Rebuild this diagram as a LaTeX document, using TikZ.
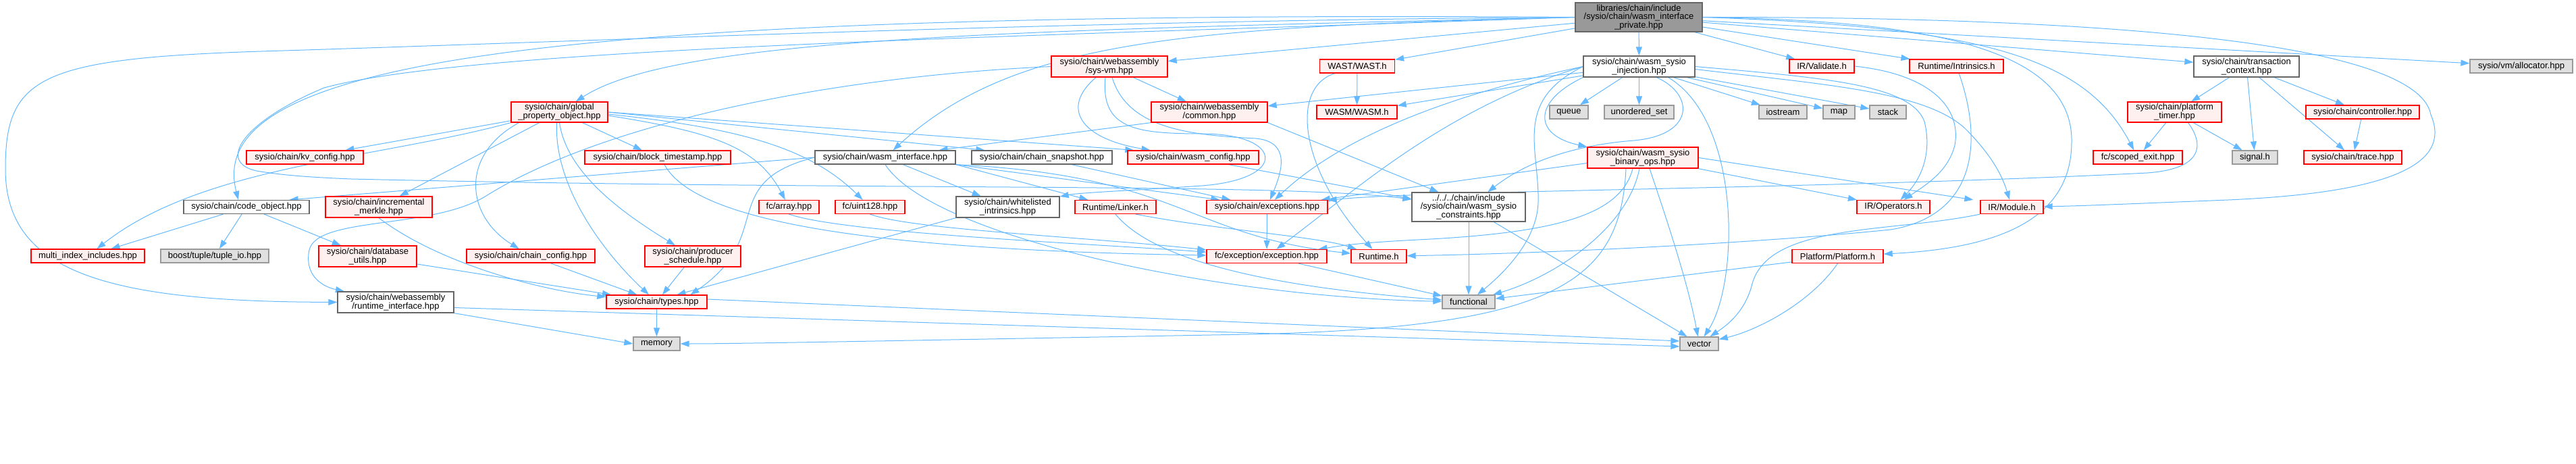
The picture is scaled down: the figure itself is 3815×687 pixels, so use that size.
\documentclass[tikz,border=0pt]{standalone}
\usepackage{fontspec}
\setmainfont{Liberation Sans}
\usepackage{xcolor}
\usepackage{tikz}
\usetikzlibrary{arrows.meta, backgrounds}
\definecolor{edgeblue}{RGB}{99,184,255}
\definecolor{redfill}{RGB}{255,240,240}
\definecolor{sysfill}{RGB}{224,224,224}
\definecolor{sysline}{RGB}{153,153,153}
\definecolor{plainline}{RGB}{102,102,102}
\definecolor{mainfill}{RGB}{153,153,153}

\begin{document}
\begin{tikzpicture}[
  x=1pt, y=-1pt,
  box/.style={draw, line width=1.3pt, inner sep=0pt, minimum height=20pt, align=center, font=\fontsize{13}{11.6}\selectfont},
  redbox/.style={box, draw=red, fill=redfill},
  plainbox/.style={box, draw=plainline, fill=white},
  sysbox/.style={box, draw=sysline, fill=sysfill},
  mainbox/.style={box, draw=plainline, fill=mainfill},
  arr/.style={-{Triangle[length=13pt, width=9pt]}, draw=edgeblue, line width=1pt}
]
  \useasboundingbox (0,0) rectangle (3815,687);

  % Header
  \node[mainbox, minimum width=188pt, minimum height=43pt] (main) at (2427,25.5) {libraries/chain/include\\/sysio/chain/wasm\_interface\\\_private.hpp};

  % Row 1
  \node[redbox, minimum width=172pt, minimum height=31pt] (sysvm) at (1643,98.5) {sysio/chain/webassembly\\/sys-vm.hpp};
  \node[redbox, minimum width=111pt] (wast) at (2010,98) {WAST/WAST.h};
  \node[plainbox, minimum width=165pt, minimum height=31pt] (inject) at (2427.5,98.5) {sysio/chain/wasm\_sysio\\\_injection.hpp};
  \node[redbox, minimum width=96pt] (validate) at (2698,98) {IR/Validate.h};
  \node[redbox, minimum width=139pt] (intrins) at (2897.5,98) {Runtime/Intrinsics.h};
  \node[plainbox, minimum width=156pt, minimum height=31pt] (trxctx) at (3327,98.5) {sysio/chain/transaction\\\_context.hpp};
  \node[sysbox, minimum width=152pt] (alloc) at (3734,98) {sysio/vm/allocator.hpp};

  % Row 2
  \node[redbox, minimum width=143pt, minimum height=30pt] (gpo) at (828.5,166) {sysio/chain/global\\\_property\_object.hpp};
  \node[redbox, minimum width=172pt, minimum height=30pt] (common) at (1791,166) {sysio/chain/webassembly\\/common.hpp};
  \node[redbox, minimum width=119pt] (wasm) at (2009.5,166) {WASM/WASM.h};
  \node[sysbox, minimum width=57pt] (queue) at (2323.5,166) {queue};
  \node[sysbox, minimum width=103pt] (uset) at (2427.5,166) {unordered\_set};
  \node[sysbox, minimum width=71pt] (iostream) at (2640.5,166) {iostream};
  \node[sysbox, minimum width=47pt] (map) at (2723.5,166) {map};
  \node[sysbox, minimum width=54pt] (stack) at (2796,166) {stack};
  \node[redbox, minimum width=139pt, minimum height=30pt] (ptimer) at (3220.5,166) {sysio/chain/platform\\\_timer.hpp};
  \node[redbox, minimum width=168pt] (ctrl) at (3499,166) {sysio/chain/controller.hpp};

  % Row 3
  \node[redbox, minimum width=173pt] (kvcfg) at (451.5,233) {sysio/chain/kv\_config.hpp};
  \node[redbox, minimum width=216pt] (blockts) at (974,233) {sysio/chain/block\_timestamp.hpp};
  \node[plainbox, minimum width=208pt] (wasmif) at (1311,233) {sysio/chain/wasm\_interface.hpp};
  \node[plainbox, minimum width=208pt] (snapshot) at (1543,233) {sysio/chain/chain\_snapshot.hpp};
  \node[redbox, minimum width=194pt] (wasmcfg) at (1767,233) {sysio/chain/wasm\_config.hpp};
  \node[redbox, minimum width=164pt, minimum height=31pt] (binops) at (2433,233.5) {sysio/chain/wasm\_sysio\\\_binary\_ops.hpp};
  \node[redbox, minimum width=132pt] (scoped) at (3166,233) {fc/scoped\_exit.hpp};
  \node[sysbox, minimum width=67pt] (signal) at (3339.5,233) {signal.h};
  \node[redbox, minimum width=145pt] (trace) at (3484.5,233) {sysio/chain/trace.hpp};

  % Row 4
  \node[plainbox, minimum width=186pt] (codeobj) at (365,306.5) {sysio/chain/code\_object.hpp};
  \node[redbox, minimum width=158pt, minimum height=31pt] (merkle) at (561,306.5) {sysio/chain/incremental\\\_merkle.hpp};
  \node[redbox, minimum width=89pt] (fcarray) at (1168.5,306.5) {fc/array.hpp};
  \node[redbox, minimum width=103pt] (uint128) at (1288.5,306.5) {fc/uint128.hpp};
  \node[plainbox, minimum width=153pt, minimum height=31pt] (whitelist) at (1492.5,306.5) {sysio/chain/whitelisted\\\_intrinsics.hpp};
  \node[redbox, minimum width=120pt] (linker) at (1652,306.5) {Runtime/Linker.h};
  \node[redbox, minimum width=179pt] (exc) at (1876.5,306.5) {sysio/chain/exceptions.hpp};
  \node[plainbox, minimum width=168pt, minimum height=43pt] (constr) at (2175,306.5) {../../../chain/include\\/sysio/chain/wasm\_sysio\\\_constraints.hpp};
  \node[redbox, minimum width=108pt] (irops) at (2804,306.5) {IR/Operators.h};
  \node[redbox, minimum width=93pt] (irmod) at (2979.5,306.5) {IR/Module.h};

  % Row 5
  \node[redbox, minimum width=168pt] (multiidx) at (130,379) {multi\_index\_includes.hpp};
  \node[sysbox, minimum width=160pt] (tupleio) at (318,379) {boost/tuple/tuple\_io.hpp};
  \node[redbox, minimum width=145pt, minimum height=31pt] (dbutils) at (544.5,379.5) {sysio/chain/database\\\_utils.hpp};
  \node[redbox, minimum width=190pt] (chaincfg) at (786,379) {sysio/chain/chain\_config.hpp};
  \node[redbox, minimum width=142pt, minimum height=31pt] (prodsched) at (1026,379.5) {sysio/chain/producer\\\_schedule.hpp};
  \node[redbox, minimum width=178pt] (fcexc) at (1876,379.5) {fc/exception/exception.hpp};
  \node[redbox, minimum width=82pt] (runtime) at (2042,379.5) {Runtime.h};
  \node[redbox, minimum width=135pt] (platform) at (2721.5,379.5) {Platform/Platform.h};

  % Row 6 and 7
  \node[plainbox, minimum width=172pt, minimum height=31pt] (rtif) at (586,447.5) {sysio/chain/webassembly\\/runtime\_interface.hpp};
  \node[redbox, minimum width=149pt] (types) at (972.5,447) {sysio/chain/types.hpp};
  \node[sysbox, minimum width=78pt] (functional) at (2175,447) {functional};
  \node[sysbox, minimum width=69pt] (memory) at (972.5,509) {memory};
  \node[sysbox, minimum width=57pt] (vector) at (2516.5,509) {vector};

  \begin{scope}[on background layer]
  % Header includes
  \draw[arr] (main) -- (sysvm);
  \draw[arr] (main) -- (wast);
  \draw[arr] (main) -- (inject);
  \draw[arr] (main) -- (validate);
  \draw[arr] (main) -- (intrins);
  \draw[arr] (main) -- (trxctx);
  \draw[arr] (main) -- (alloc);
  \draw[arr] (main.west) .. controls (1500,45) and (1000,55) .. (gpo);
  \draw[arr] (main.west) .. controls (1750,40) and (1500,60) .. (wasmif);
  \draw[arr] (main.west) .. controls (800,15) and (300,90) .. ([xshift=-12pt]codeobj.north);
  \draw[arr] (main.west) .. controls (1600,30) and (900,60) .. (420,75) .. controls (60,85) and (8,110) .. (8,250) .. controls (8,400) and (150,447) .. (rtif);
  \draw[arr] (main.west) .. controls (1500,55) and (700,70) .. (480,130) .. controls (360,180) and (320,240) .. (380,253) .. controls (420,260) and (470,263) .. (520,265) .. controls (1300,283) and (1900,270) .. (constr);
  \draw[arr] (main.east) .. controls (2950,40) and (3090,90) .. (scoped);
  \draw[arr] (main.east) .. controls (3100,25) and (3580,60) .. (3600,170) .. controls (3630,240) and (3550,285) .. (3300,296) .. controls (3150,302) and (3080,305) .. (irmod);
  \draw[arr] (main.east) .. controls (2850,30) and (3070,70) .. (3068,210) .. controls (3068,330) and (2950,368) .. (platform);

  % sys-vm
  \draw[arr] (sysvm) -- (common);
  \draw[arr] ([xshift=-20pt]sysvm.south) .. controls (1570,160) and (1600,205) .. (wasmcfg);
  \draw[arr] ([xshift=-6pt]sysvm.south) .. controls (1630,190) and (1680,198) .. (1780,198) .. controls (1900,198) and (1910,265) .. (1780,275) .. controls (1680,282) and (1600,285) .. (whitelist);
  \draw[arr] ([xshift=4pt]sysvm.south) .. controls (1670,190) and (1760,200) .. (1860,205) .. controls (1910,210) and (1900,250) .. (exc);
  \draw[arr] (sysvm.west) .. controls (1200,115) and (880,190) .. (720,290) .. controls (640,340) and (470,320) .. (458,370) .. controls (450,410) and (480,425) .. (rtif);

  % WAST
  \draw[arr] (wast) -- (wasm);
  \draw[arr] (wast) .. controls (1910,130) and (1925,250) .. (runtime);

  % injection
  \draw[arr] (inject) -- (common);
  \draw[arr] (inject) -- (wasm);
  \draw[arr] (inject) -- (queue);
  \draw[arr] (inject) -- (uset);
  \draw[arr] (inject) -- (iostream);
  \draw[arr] (inject) -- (map);
  \draw[arr] (inject) -- (stack);
  \draw[arr] (inject.south west) .. controls (2270,150) and (2270,200) .. (binops.north west);
  \draw[arr] ([xshift=26pt]inject.south) .. controls (2510,140) and (2510,200) .. (2420,208) .. controls (2330,215) and (2260,240) .. (constr);
  \draw[arr] (inject.west) .. controls (2150,140) and (1990,200) .. (exc);
  \draw[arr] (inject.west) .. controls (2140,160) and (2010,280) .. (fcexc);
  \draw[arr] (inject.west) .. controls (2240,150) and (2280,220) .. (2278,300) .. controls (2276,360) and (2220,410) .. (functional);
  \draw[arr] ([xshift=-40pt]inject.south east) .. controls (2580,180) and (2575,420) .. (vector);
  \draw[arr] (inject.east) .. controls (2700,115) and (2830,125) .. (2850,180) .. controls (2860,220) and (2850,260) .. (irops);
  \draw[arr] ([yshift=-4pt]inject.east) .. controls (2700,125) and (2850,135) .. (2910,190) .. controls (2950,230) and (2965,260) .. (irmod);

  % IR and runtime
  \draw[arr] (validate.east) .. controls (2860,110) and (2905,160) .. (2895,215) .. controls (2885,255) and (2850,275) .. (irops);
  \draw[arr] (intrins) .. controls (2940,220) and (2920,320) .. (2800,340) .. controls (2600,360) and (2300,375) .. (runtime);

  % transaction context
  \draw[arr] (trxctx) -- (ptimer);
  \draw[arr] (trxctx) -- (signal);
  \draw[arr] (trxctx) -- (ctrl);
  \draw[arr] (trxctx) -- (trace);
  \draw[arr] (ctrl) -- (trace);
  \draw[arr] (ptimer) -- (scoped);
  \draw[arr] (ptimer) -- (signal);
  \draw[arr] ([xshift=20pt]ptimer.south) .. controls (3265,215) and (3262,250) .. (3180,256) .. controls (2700,280) and (2100,282) .. (exc);

  % global property object
  \draw[arr] (gpo) -- (kvcfg);
  \draw[arr] (gpo.south west) .. controls (560,235) and (300,245) .. (multiidx);
  \draw[arr] (gpo) -- (merkle);
  \draw[arr] ([xshift=-60pt]gpo.south) .. controls (680,230) and (690,320) .. (chaincfg);
  \draw[arr] ([xshift=-4pt]gpo.south) .. controls (820,280) and (900,380) .. (types);
  \draw[arr] (gpo.south) .. controls (840,260) and (930,320) .. (prodsched);
  \draw[arr] (gpo) -- (blockts);
  \draw[arr] ([yshift=-5pt]gpo.east) .. controls (1050,195) and (1120,215) .. (fcarray);
  \draw[arr] ([yshift=-3pt]gpo.east) .. controls (1100,190) and (1200,220) .. (uint128);
  \draw[arr] (gpo.east) -- ([xshift=20pt]snapshot.north west);
  \draw[arr] (gpo.east) -- ([xshift=10pt]wasmcfg.north west);

  % wasm interface
  \draw[arr] (wasmif.west) -- ([xshift=-30pt]codeobj.north east);
  \draw[arr] (wasmif.west) .. controls (1060,270) and (1150,350) .. ([xshift=50pt]types.north);
  \draw[arr] (wasmif) -- (whitelist);
  \draw[arr] (wasmif.south) .. controls (1380,350) and (1800,440) .. (functional);
  \draw[arr] (wasmif.south east) -- ([xshift=20pt]linker.north west);
  \draw[arr] (wasmif.south east) -- ([xshift=20pt]exc.north west);
  \draw[arr] (wasmif.south east) .. controls (1750,260) and (1760,350) .. (runtime);

  % webassembly common, snapshot, config
  \draw[arr] (common.south west) -- ([xshift=-25pt]wasmif.north east);
  \draw[arr] (common.south east) -- ([xshift=40pt]constr.north west);
  \draw[arr] ([xshift=44pt]snapshot.south) -- ([xshift=36pt]exc.north west);
  \draw[arr] ([xshift=-45pt]wasmcfg.south east) -- ([yshift=12pt]constr.west);

  % binary ops
  \draw[arr] ([yshift=-8pt]binops.west) -- ([xshift=-10pt]exc.north east);
  \draw[arr] ([xshift=-15pt]binops.south) .. controls (2400,320) and (2300,345) .. (2100,355) .. controls (2000,360) and (1980,365) .. (fcexc);
  \draw[arr] ([xshift=-5pt]binops.south) .. controls (2410,340) and (2300,410) .. (functional);
  \draw[arr] ([xshift=10pt]binops.south) .. controls (2470,330) and (2500,420) .. (vector);
  \draw[arr] ([xshift=-25pt]binops.south) .. controls (2400,420) and (2300,485) .. (1850,495) .. controls (1400,503) and (1100,509) .. (memory);
  \draw[arr] (binops) -- (irops);
  \draw[arr] (binops.east) -- ([xshift=-10pt]irmod.north west);

  % constraints, exceptions, linker
  \draw[arr] (constr) -- (functional);
  \draw[arr] (constr) -- (vector);
  \draw[arr] (exc) -- (fcexc);
  \draw[arr] (fcexc) -- (functional);
  \draw[arr] (linker.south) .. controls (1720,400) and (1950,430) .. (functional);
  \draw[arr] ([xshift=30pt]linker.south) .. controls (1800,340) and (1950,350) .. (runtime);
  \draw[arr] (whitelist.south west) -- ([xshift=30pt]types.north);
  \draw[arr] (fcarray.south) .. controls (1250,345) and (1600,360) .. (fcexc);
  \draw[arr] (uint128.south) .. controls (1350,340) and (1600,350) .. (fcexc);
  \draw[arr] ([xshift=10pt]blockts.south) .. controls (1030,330) and (1300,370) .. (fcexc);

  % types and lower rows
  \draw[arr] (types) -- (memory);
  \draw[arr] ([yshift=4pt]types.east) -- ([yshift=4pt]vector.west);
  \draw[arr] (rtif.south east) -- (memory.west);
  \draw[arr] ([yshift=-8pt]rtif.east) -- ([yshift=-4pt]vector.west);
  \draw[arr] (dbutils) -- (types);
  \draw[arr] (merkle.south) .. controls (650,390) and (800,430) .. (types);
  \draw[arr] (chaincfg) -- (types);
  \draw[arr] (prodsched) -- (types);
  \draw[arr] (codeobj) -- (multiidx);
  \draw[arr] (codeobj) -- (tupleio);
  \draw[arr] (codeobj) -- (dbutils);
  \draw[arr] (irmod.south west) .. controls (2800,345) and (2620,330) .. (2595,420) .. controls (2585,460) and (2560,480) .. (vector);
  \draw[arr] (platform) -- (functional);
  \draw[arr] (platform.south) .. controls (2680,450) and (2600,490) .. (vector);
  \end{scope}
\end{tikzpicture}
\end{document}
